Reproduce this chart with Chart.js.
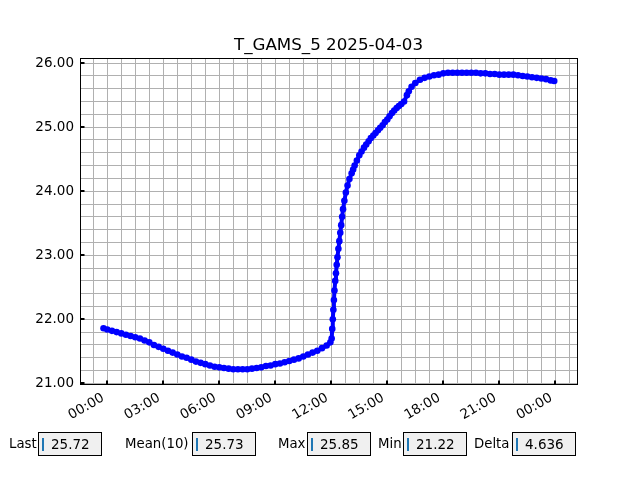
<!DOCTYPE html>
<html>
<head>
<meta charset="utf-8">
<script src="https://cdn.jsdelivr.net/npm/chart.js@4.4.1/dist/chart.umd.min.js"></script>
<style>
  html, body { margin: 0; padding: 0; background: #fff; }
  #wrap { position: relative; width: 640px; height: 480px; font-family: "DejaVu Sans", sans-serif; }
  #chart { position: absolute; left: 0; top: 0; }
  .lbl { position: absolute; top: 433px; font-size: 13.3px; line-height: 22px; color: #000; }
  .box { position: absolute; top: 432px; width: 62px; height: 22px; background: #f0f0f0; border: 1px solid #000; }
  .box .cur { position: absolute; left: 3px; top: 5px; width: 2px; height: 13px; background: #1f77b4; }
  .box .val { position: absolute; left: 12px; top: 0; font-size: 13.5px; line-height: 22px; color: #000; }
</style>
</head>
<body>
<div id="wrap">
  <canvas id="chart" width="640" height="480"></canvas>

  <div class="lbl" style="left:9px">Last</div>
  <div class="box" style="left:38px"><span class="cur"></span><span class="val">25.72</span></div>

  <div class="lbl" style="left:125px">Mean(10)</div>
  <div class="box" style="left:192px"><span class="cur"></span><span class="val">25.73</span></div>

  <div class="lbl" style="left:278px">Max</div>
  <div class="box" style="left:307px"><span class="cur"></span><span class="val">25.85</span></div>

  <div class="lbl" style="left:378px">Min</div>
  <div class="box" style="left:403px"><span class="cur"></span><span class="val">21.22</span></div>

  <div class="lbl" style="left:474px">Delta</div>
  <div class="box" style="left:512px"><span class="cur"></span><span class="val">4.636</span></div>
</div>

<script>
const titleText = "T_GAMS_5 2025-04-03";

// sample times in hours since 00:00
const hours = [
  -0.20, 0.00, 0.25, 0.50, 0.75, 1.00, 1.25, 1.50, 1.75, 2.00,
  2.25, 2.50, 2.75, 3.00, 3.25, 3.50, 3.75, 4.00, 4.25, 4.50,
  4.75, 5.00, 5.25, 5.50, 5.75, 6.00, 6.25, 6.50, 6.75, 7.00,
  7.25, 7.50, 7.75, 8.00, 8.25, 8.50, 8.75, 9.00, 9.25, 9.50,
  9.75, 10.00, 10.25, 10.50, 10.75, 11.00, 11.25, 11.50, 11.75, 11.95,
  12.02, 12.05, 12.08, 12.11, 12.14, 12.17, 12.21, 12.25, 12.29, 12.33,
  12.38, 12.43, 12.48, 12.53, 12.58, 12.63, 12.70, 12.78, 12.87, 12.97,
  13.09, 13.17, 13.25, 13.37, 13.50, 13.62, 13.75, 13.87, 14.00, 14.12,
  14.25, 14.37, 14.50, 14.62, 14.75, 14.87, 15.00, 15.12, 15.25, 15.37,
  15.50, 15.62, 15.75, 15.90, 16.05, 16.15, 16.30, 16.50, 16.75, 17.00,
  17.25, 17.50, 17.75, 18.00, 18.25, 18.50, 18.75, 19.00, 19.25, 19.50,
  19.75, 20.00, 20.25, 20.50, 20.75, 21.00, 21.25, 21.50, 21.75, 22.00,
  22.25, 22.50, 22.75, 23.00, 23.25, 23.50, 23.75, 23.94
];

// temperature readings
const temps = [
  21.86, 21.84, 21.82, 21.80, 21.78, 21.76, 21.74, 21.72, 21.70, 21.67,
  21.64, 21.60, 21.57, 21.54, 21.51, 21.48, 21.45, 21.42, 21.40, 21.37,
  21.34, 21.32, 21.30, 21.28, 21.26, 21.25, 21.24, 21.23, 21.22, 21.22,
  21.22, 21.22, 21.23, 21.24, 21.25, 21.27, 21.28, 21.30, 21.31, 21.33,
  21.35, 21.37, 21.39, 21.42, 21.45, 21.48, 21.51, 21.55, 21.59, 21.64,
  21.70, 21.85, 22.00, 22.15, 22.30, 22.45, 22.60, 22.72, 22.85, 22.97,
  23.10, 23.22, 23.35, 23.47, 23.60, 23.72, 23.85, 23.98, 24.09, 24.19,
  24.28, 24.34, 24.40, 24.48, 24.56, 24.62, 24.68, 24.73, 24.78, 24.83,
  24.87, 24.91, 24.95, 24.99, 25.03, 25.08, 25.12, 25.17, 25.22, 25.26,
  25.30, 25.33, 25.36, 25.40, 25.50, 25.56, 25.63, 25.69, 25.74, 25.77,
  25.79, 25.81, 25.82, 25.84, 25.85, 25.85, 25.85, 25.85, 25.85, 25.85,
  25.85, 25.84, 25.84, 25.83, 25.83, 25.82, 25.82, 25.82, 25.82, 25.81,
  25.80, 25.79, 25.78, 25.77, 25.76, 25.75, 25.73, 25.72
];

// labelled ticks
const xTickHours = [0, 3, 6, 9, 12, 15, 18, 21, 24];
const xTickLabels = ["00:00", "03:00", "06:00", "09:00", "12:00", "15:00", "18:00", "21:00", "00:00"];
const yTickValues = [21, 22, 23, 24, 25, 26];

// grid every 45 min and every 0.2 degree
const xGrid = [];
for (let h = -0.75; h <= 24.76; h += 0.75) xGrid.push(Math.round(h * 100) / 100);
const yGrid = [];
for (let v = 21; v <= 26.001; v += 0.2) yGrid.push(Math.round(v * 10) / 10);

// frame, inward tick marks and title centred on the axes
const decor = {
  id: "decor",
  afterDraw(chart) {
    const { ctx, chartArea: a, scales } = chart;
    ctx.save();
    ctx.strokeStyle = "#000";
    ctx.lineWidth = 1;
    ctx.strokeRect(a.left + 0.5, a.top + 0.5, a.right - a.left, a.bottom - a.top);
    ctx.fillStyle = "#000";
    xTickHours.forEach(h => {
      const px = Math.round(scales.x.getPixelForValue(h));
      ctx.fillRect(px - 1, a.bottom - 3.5, 2, 4);
    });
    yTickValues.forEach(v => {
      const py = Math.round(scales.y.getPixelForValue(v));
      ctx.fillRect(a.left, py - 1, 4.5, 2);
    });
    ctx.font = '16.7px "DejaVu Sans"';
    ctx.textAlign = "center";
    ctx.textBaseline = "alphabetic";
    ctx.fillText(titleText, (a.left + a.right) / 2, 50);
    ctx.restore();
  }
};

const ctx = document.getElementById("chart").getContext("2d");
new Chart(ctx, {
  type: "line",
  data: {
    datasets: [{
      data: hours.map((h, i) => ({ x: h, y: temps[i] })),
      borderColor: "#0000ff",
      backgroundColor: "#0000ff",
      borderWidth: 4,
      pointRadius: 3.3,
      pointBorderWidth: 0,
      pointBackgroundColor: "#0000ff",
      tension: 0,
      fill: false
    }]
  },
  options: {
    responsive: false,
    animation: false,
    devicePixelRatio: 1,
    layout: { padding: { top: 58, right: 63, left: 0, bottom: 0 } },
    plugins: {
      legend: { display: false },
      title: { display: false },
      tooltip: { enabled: false }
    },
    scales: {
      x: {
        type: "linear",
        min: -1.46,
        max: 25.16,
        afterFit: s => { s.height = 96; },
        afterBuildTicks: s => { s.ticks = xGrid.map(v => ({ value: v })); },
        grid: { color: "#b0b0b0", lineWidth: 1, drawTicks: false },
        border: { display: false },
        ticks: {
          autoSkip: false,
          minRotation: 30,
          maxRotation: 30,
          padding: 6,
          labelOffset: -4,
          color: "#000",
          font: { family: "DejaVu Sans", size: 13.5 },
          callback: v => {
            const i = xTickHours.findIndex(h => Math.abs(h - v) < 1e-6);
            return i >= 0 ? xTickLabels[i] : "";
          }
        }
      },
      y: {
        min: 20.99,
        max: 26.08,
        afterFit: s => { s.width = 80; },
        afterBuildTicks: s => { s.ticks = yGrid.map(v => ({ value: v })); },
        grid: { color: "#b0b0b0", lineWidth: 1, drawTicks: false },
        border: { display: false },
        ticks: {
          autoSkip: false,
          padding: 6,
          color: "#000",
          font: { family: "DejaVu Sans", size: 13.5 },
          callback: v => yTickValues.some(t => Math.abs(t - v) < 1e-6) ? v.toFixed(2) : ""
        }
      }
    }
  },
  plugins: [decor]
});
</script>
</body>
</html>
